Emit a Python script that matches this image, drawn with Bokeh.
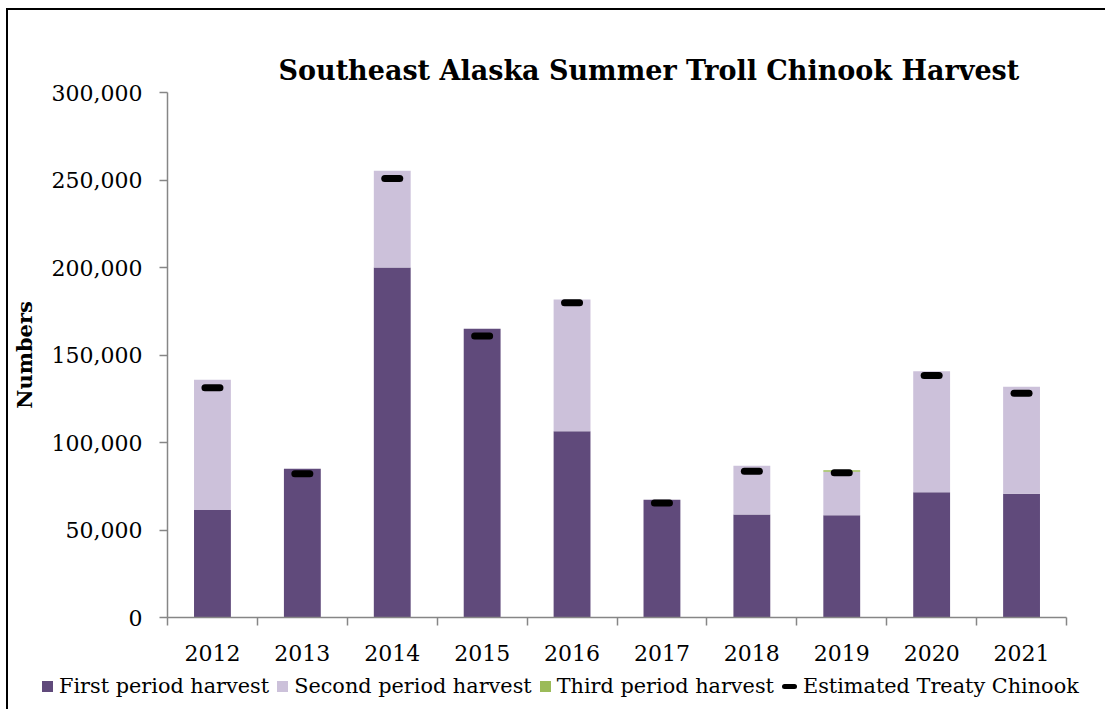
from bokeh.plotting import figure
from bokeh.layouts import column
from bokeh.models import FixedTicker, Range1d, NumeralTickFormatter, Div
from bokeh.embed import file_html
from bokeh.resources import INLINE

years = ["2012", "2013", "2014", "2015", "2016", "2017", "2018", "2019", "2020", "2021"]
first_period = [61500, 85000, 200000, 165000, 106500, 67300, 58900, 58500, 71600, 70700]
second_period = [74300, 0, 55300, 0, 75200, 0, 27800, 24800, 69100, 61100]
third_period = [0, 0, 0, 0, 0, 0, 0, 800, 0, 0]
treaty_chinook = [131300, 82100, 250800, 160900, 179900, 65400, 83600, 82700, 138300, 128200]
y_ticks = [0, 50000, 100000, 150000, 200000, 250000, 300000]
legend_labels = ["First period harvest", "Second period harvest",
                 "Third period harvest", "Estimated Treaty Chinook"]

C_FIRST = "#604A7B"
C_SECOND = "#CCC1DA"
C_THIRD = "#9BBB59"
C_TREATY = "black"
AXIS = "#868686"
FONT = "DejaVu Serif"

n = len(years)
xc = [i + 0.5 for i in range(n)]
bounds = [float(i) for i in range(n + 1)]
second_bottom = first_period
second_top = [a + b for a, b in zip(first_period, second_period)]
third_top = [a + b for a, b in zip(second_top, third_period)]

p = figure(width=1097, height=662, output_backend="svg", toolbar_location=None,
           x_range=Range1d(0, n), y_range=Range1d(0, 300000),
           min_border_left=158, min_border_right=39, min_border_top=82, min_border_bottom=55)
p.outline_line_color = None
p.grid.visible = False

p.title.text = "Southeast Alaska Summer Troll Chinook Harvest"
p.title.text_font = FONT
p.title.text_font_size = "27px"
p.title.text_font_style = "bold"
p.title.text_color = "black"
p.title.align = "left"
p.title.offset = 111
p.title.standoff = 13

bw = 0.41
p.vbar(x=xc, bottom=0, top=first_period, width=bw, fill_color=C_FIRST, line_color=None)
p.vbar(x=xc, bottom=second_bottom, top=second_top, width=bw, fill_color=C_SECOND, line_color=None)
p.vbar(x=xc, bottom=second_top, top=third_top, width=bw, fill_color=C_THIRD, line_color=None)
p.scatter(x=xc, y=treaty_chinook, marker="dash", size=15, line_width=7,
          line_color=C_TREATY, line_cap="round")

# y axis
ya = p.yaxis[0]
ya.ticker = FixedTicker(ticks=y_ticks)
ya.formatter = NumeralTickFormatter(format="0,0")
ya.axis_line_color = AXIS
ya.axis_line_width = 1.5
ya.major_tick_line_color = AXIS
ya.major_tick_line_width = 1.5
ya.major_tick_out = 8
ya.major_tick_in = 0
ya.minor_tick_line_color = None
ya.major_label_text_font = FONT
ya.major_label_text_font_size = "22px"
ya.major_label_text_color = "black"
ya.major_label_standoff = 17
ya.axis_label = "Numbers"
ya.axis_label_text_font = FONT
ya.axis_label_text_font_size = "21px"
ya.axis_label_text_font_style = "bold"
ya.axis_label_text_color = "black"
ya.axis_label_standoff = 12

# x axis
xa = p.xaxis[0]
xa.ticker = FixedTicker(ticks=xc, minor_ticks=bounds)
xa.major_label_overrides = {x: y for x, y in zip(xc, years)}
xa.axis_line_color = AXIS
xa.axis_line_width = 1.5
xa.major_tick_line_color = None
xa.major_tick_out = 0
xa.major_tick_in = 0
xa.minor_tick_line_color = AXIS
xa.minor_tick_line_width = 1.5
xa.minor_tick_out = 8
xa.minor_tick_in = 0
xa.major_label_text_font = FONT
xa.major_label_text_font_size = "22px"
xa.major_label_text_color = "black"
xa.major_label_standoff = 19

# legend strip below the plot (HTML, so it is not clipped by the plot frame)
def swatch(color, w, h, radius=0):
    return ("<span style='display:inline-block;width:%dpx;height:%dpx;background:%s;"
            "border-radius:%dpx;margin-right:6px;vertical-align:middle;position:relative;top:-1px;'></span>"
            % (w, h, color, radius))

swatches = [swatch(C_FIRST, 11, 11), swatch(C_SECOND, 11, 11),
            swatch(C_THIRD, 11, 11), swatch(C_TREATY, 15, 5, 3)]
items = "".join("<span style='margin-right:8px;white-space:nowrap;'>%s%s</span>" % (s, lab)
                for s, lab in zip(swatches, legend_labels))
legend_html = ("<div style=\"font-family:'DejaVu Serif';font-size:20.8px;color:black;"
               "padding-left:34px;padding-top:2px;white-space:nowrap;line-height:24px;\">%s</div>" % items)
legend_div = Div(text=legend_html, width=1097, height=37, margin=0)

layout = column(p, legend_div, spacing=0)
layout.styles = {"border-left": "2px solid black", "border-top": "2px solid black",
                 "margin-left": "6px", "margin-top": "8px"}

open("out.html", "w").write(file_html(layout, INLINE))
